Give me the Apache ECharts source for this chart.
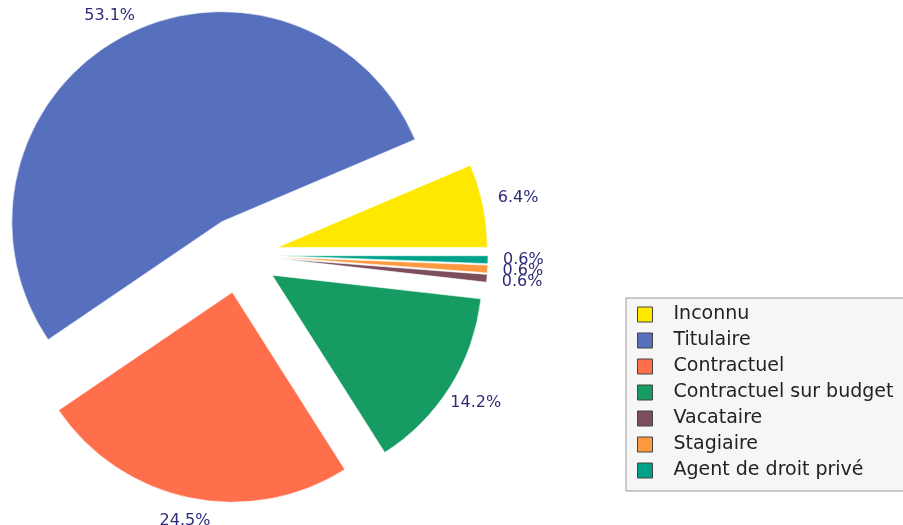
<!DOCTYPE html>
<html>
<head>
<meta charset="utf-8">
<script src="https://cdn.jsdelivr.net/npm/echarts@6/dist/echarts.min.js"></script>
<style>
html,body{margin:0;padding:0;background:#fff;}
#chart{width:903px;height:525px;}
</style>
</head>
<body>
<div id="chart"></div>
<script>
const categories = ['Inconnu', 'Titulaire', 'Contractuel', 'Contractuel sur budget', 'Vacataire', 'Stagiaire', 'Agent de droit privé'];
const shares = [6.4, 53.1, 24.5, 14.2, 0.6, 0.6, 0.6];
const colors = ['#FFE800', '#5770BE', '#FF6F4C', '#169B62', '#7D4E5B', '#FF9940', '#00A38A'];

const FONT = 'DejaVu Sans';
const LABEL_SIZE = 16;
const LABEL_COLOR = '#2E2C78';
const EXPLODE = 38;
const LABEL_GAP = 15;
const pieData = categories.map((c, i) => ({ name: c, value: shares[i], selected: true, itemStyle: { color: colors[i] } }));

const chart = echarts.init(document.getElementById('chart'), null, { renderer: 'canvas' });
chart.setOption({
  animation: false,
  backgroundColor: '#ffffff',
  color: colors,
  legend: {
    orient: 'vertical',
    left: 626,
    top: 298,
    padding: [7, 30, 11, 11],
    backgroundColor: '#f6f6f6',
    borderColor: '#9a9a9a',
    borderWidth: 1,
    borderRadius: 0,
    itemWidth: 15,
    itemHeight: 15,
    itemGap: 7,
    icon: 'rect',
    itemStyle: { borderColor: '#444', borderWidth: 1 },
    textStyle: { fontFamily: FONT, fontSize: 19, color: '#222', padding: [0, 0, 0, 16], lineHeight: 17 },
    data: categories
  },
  series: [
    {
      type: 'pie',
      center: [240, 255],
      radius: [0, 210],
      startAngle: 0,
      clockwise: false,
      selectedMode: 'multiple',
      selectedOffset: EXPLODE,
      avoidLabelOverlap: false,
      label: { show: false },
      labelLine: { show: false },
      emphasis: { disabled: true },
      itemStyle: { borderColor: '#ffffff', borderWidth: 0.6 },
      data: pieData
    }
  ]
});

// Percentage labels: placed just outside each exploded slice, along its mid-angle,
// from the sector geometry computed by ECharts' pie layout.
const measure = document.createElement('canvas').getContext('2d');
measure.font = LABEL_SIZE + 'px "' + FONT + '"';
const pieLayoutData = chart.getModel().getSeriesByIndex(0).getData();
const labelEls = shares.map((v, i) => {
  const lay = pieLayoutData.getItemLayout(i);
  const mid = (lay.startAngle + lay.endAngle) / 2;
  const ux = Math.cos(mid), uy = Math.sin(mid);
  const text = v.toFixed(1) + '%';
  const w = measure.measureText(text).width, h = LABEL_SIZE;
  const ext = Math.min(
    Math.abs(ux) > 1e-6 ? (w / 2) / Math.abs(ux) : Infinity,
    Math.abs(uy) > 1e-6 ? (h / 2) / Math.abs(uy) : Infinity
  );
  const d = EXPLODE + lay.r + LABEL_GAP + ext;
  return {
    type: 'text',
    x: lay.cx + ux * d,
    y: lay.cy + uy * d,
    silent: true,
    z: 10,
    style: {
      text: text,
      fill: LABEL_COLOR,
      font: LABEL_SIZE + 'px "' + FONT + '"',
      align: 'center',
      verticalAlign: 'middle',
      textAlign: 'center',
      textVerticalAlign: 'middle'
    }
  };
});
chart.setOption({ graphic: labelEls });
</script>
</body>
</html>
